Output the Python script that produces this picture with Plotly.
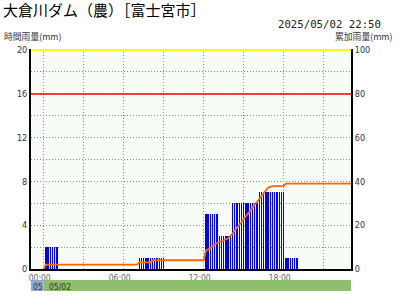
import plotly.graph_objects as go

DAY = "2025-05-02"
PREV = "2025-05-01"
NEXT = "2025-05-03"

title_text = "大倉川ダム（農）［富士宮市］"
stamp_text = "2025/05/02 22:50"
left_unit = "時間雨量(mm)"
right_unit = "累加雨量(mm)"

# hourly rainfall (mm/h), shown at every 10-minute step
bar_hhmm = [
    "00:10", "00:20", "00:30", "00:40", "00:50", "01:00",
    "07:10", "07:20", "07:30", "07:40", "07:50", "08:00",
    "08:10", "08:20", "08:30", "08:40", "08:50", "09:00",
    "12:10", "12:20", "12:30", "12:40", "12:50", "13:00",
    "13:10", "13:20", "13:30", "13:40", "13:50", "14:00",
    "14:10", "14:20", "14:30", "14:40", "14:50", "15:00",
    "15:10", "15:20", "15:30", "15:40", "15:50", "16:00",
    "16:10", "16:20", "16:30", "16:40", "16:50", "17:00",
    "17:10", "17:20", "17:30", "17:40", "17:50", "18:00",
    "18:10", "18:20", "18:30", "18:40", "18:50", "19:00",
]
bar_mm = [
    2, 2, 2, 2, 2, 2,
    1, 1, 1, 1, 1, 1,
    1, 1, 1, 1, 1, 1,
    5, 5, 5, 5, 5, 5,
    3, 3, 3, 3, 3, 3,
    6, 6, 6, 6, 6, 6,
    6, 6, 6, 6, 6, 6,
    7, 7, 7, 7, 7, 7,
    7, 7, 7, 7, 7, 7,
    1, 1, 1, 1, 1, 1,
]

# cumulative rainfall (mm)
cum_hhmm = ["00:00", "00:10", "07:00", "07:10", "08:00", "08:10", "12:00", "12:10",
            "12:30", "13:00", "13:30", "13:50", "14:10", "14:50", "15:20", "15:50",
            "16:10", "16:30", "16:50", "17:10", "18:00", "18:10", "23:10"]
cum_mm = [0, 2, 2, 3, 3, 4, 4, 8.4,
          9.6, 11.9, 13, 14, 16.2, 21.3, 25.3, 29.3,
          31.5, 34.6, 37.2, 37.8, 38, 39, 39]

warn_level = 16
top_level = 20

x_range = [f"{PREV} 23:03", f"{DAY} 23:03"]

bar_x = [f"{DAY} {t}" for t in bar_hhmm]
cum_x = [f"{DAY} {t}" for t in cum_hhmm]

NARROW = "Liberation Sans Narrow, DejaVu Sans Condensed, Liberation Sans, sans-serif"
JP = "Noto Sans CJK JP"
HOUR = 3600000
GRID = "#8a8a8a"
DASH = "1px,2px"

fig = go.Figure()
fig.add_trace(go.Bar(
    x=bar_x, y=bar_mm, width=5.8 * 60000,
    marker=dict(color="rgba(0,0,255,0.999)", line=dict(width=0)),
    xaxis="x", yaxis="y", hoverinfo="skip",
))
fig.add_trace(go.Scatter(
    x=cum_x, y=cum_mm, mode="lines",
    line=dict(color="#FF6600", width=1.8),
    xaxis="x", yaxis="y3", hoverinfo="skip",
))
# invisible trace to create the date-strip subplot
fig.add_trace(go.Scatter(
    x=[f"{DAY} 00:00"], y=[0.5], mode="markers", marker=dict(opacity=0),
    xaxis="x2", yaxis="y2", hoverinfo="skip",
))

fig.update_layout(
    template="none",
    width=400, height=300,
    margin=dict(l=31, r=49, t=49, b=9, autoexpand=False),
    paper_bgcolor="white",
    plot_bgcolor="#F8FCF6",
    showlegend=False,
    bargap=0, bargroupgap=0,
    title=dict(text=title_text, x=3 / 400, xref="container", xanchor="left",
               y=1 - 11 / 300, yref="container", yanchor="middle",
               font=dict(family=JP, size=15, color="black")),
    xaxis=dict(
        type="date", range=x_range, anchor="y", domain=[0, 1], automargin=False,
        tick0=f"{DAY} 00:00", dtick=6 * HOUR, tickformat="%H:%M",
        ticks="", ticklabelshift=-4,
        tickfont=dict(family=NARROW, size=8.5, color="#666"),
        showgrid=True, gridcolor=GRID, griddash=DASH, gridwidth=1,
        minor=dict(dtick=3 * HOUR, tick0=f"{DAY} 00:00", showgrid=True,
                   gridcolor=GRID, griddash=DASH, gridwidth=1),
        showline=True, linecolor="black", linewidth=2,
        zeroline=False, fixedrange=True,
    ),
    yaxis=dict(
        range=[0, 20.1], domain=[22 / 242, 1], anchor="x", automargin=False,
        tick0=0, dtick=4, ticks="",
        tickfont=dict(family=NARROW, size=9, color="#333"),
        showgrid=True, gridcolor=GRID, griddash=DASH, gridwidth=1,
        minor=dict(dtick=2, tick0=0, showgrid=True,
                   gridcolor=GRID, griddash=DASH, gridwidth=1),
        showline=True, linecolor="black", linewidth=2,
        zeroline=False,
    ),
    yaxis3=dict(
        range=[0, 100.5], overlaying="y", side="right", anchor="x", automargin=False,
        tick0=0, dtick=20, ticks="",
        tickfont=dict(family=NARROW, size=9, color="#333"),
        showgrid=False, showline=True, linecolor="black", linewidth=2,
        zeroline=False,
    ),
    xaxis2=dict(
        type="date", matches="x", anchor="y2", domain=[0, 1], automargin=False,
        visible=False, showgrid=False,
    ),
    yaxis2=dict(
        range=[0, 1], domain=[0, 11 / 242], anchor="x2", automargin=False,
        visible=False, showgrid=False,
    ),
)

shapes = [
    dict(type="line", xref="x domain", yref="y", x0=0, x1=1,
         y0=top_level, y1=top_level, line=dict(color="#FFFF00", width=2)),
    dict(type="line", xref="x domain", yref="y", x0=0, x1=1,
         y0=warn_level, y1=warn_level, line=dict(color="#FF0000", width=1.5)),
    dict(type="rect", xref="x2", yref="y2", x0=f"{PREV} 00:00", x1=f"{DAY} 00:00",
         y0=0, y1=1, fillcolor="#8EAADC", line=dict(width=0), layer="above"),
    dict(type="rect", xref="x2", yref="y2", x0=f"{DAY} 00:00", x1=f"{NEXT} 00:00",
         y0=0, y1=1, fillcolor="#8DBF6D", line=dict(width=0), layer="above"),
]
fig.update_layout(shapes=shapes)

ann = [
    dict(text=stamp_text, xref="paper", yref="paper",
         x=(382 - 31) / 320, y=(291 - 24.5) / 242, xanchor="right", yanchor="middle",
         showarrow=False, borderpad=0,
         font=dict(family="DejaVu Sans Mono", size=10.7, color="#222")),
    dict(text=left_unit, xref="paper", yref="paper",
         x=(3 - 31) / 320, y=(291 - 36.5) / 242, xanchor="left", yanchor="middle",
         showarrow=False, borderpad=0, font=dict(family=JP, size=8.8, color="#333")),
    dict(text=right_unit, xref="paper", yref="paper",
         x=(393 - 31) / 320, y=(291 - 36.5) / 242, xanchor="right", yanchor="middle",
         showarrow=False, borderpad=0, font=dict(family=JP, size=8.8, color="#333")),
    dict(text="05", xref="x2", yref="y2", x=f"{DAY} 00:00", y=0.4,
         xanchor="right", yanchor="middle", xshift=0, showarrow=False, borderpad=0,
         font=dict(family=NARROW, size=8.5, color="#333")),
    dict(text="05/02", xref="x2", yref="y2", x=f"{DAY} 00:00", y=0.4,
         xanchor="left", yanchor="middle", xshift=4, showarrow=False, borderpad=0,
         font=dict(family=NARROW, size=8.5, color="#333")),
]
fig.update_layout(annotations=ann)

fig.write_html("out.html")
